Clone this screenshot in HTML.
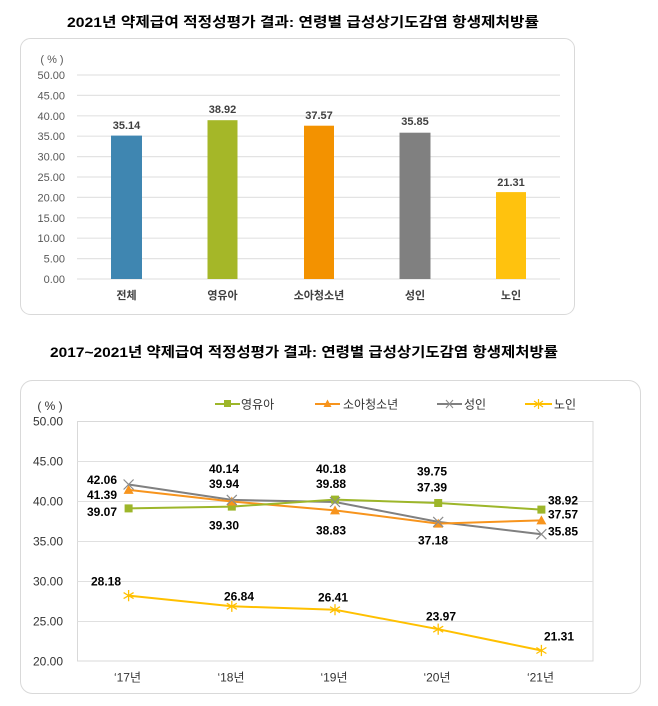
<!DOCTYPE html>
<html>
<head>
<meta charset="utf-8">
<style>
html,body{margin:0;padding:0;background:#fff;}
svg{display:block;}
text{font-family:"Liberation Sans","Noto Sans CJK KR",sans-serif;}
</style>
</head>
<body>
<svg width="658" height="706" viewBox="0 0 658 706" xmlns="http://www.w3.org/2000/svg">
<rect width="658" height="706" fill="#fff"/>

<!-- ===== Chart 1 ===== -->
<text x="303" y="27" text-anchor="middle" font-size="14" font-weight="bold" fill="#000" textLength="472" lengthAdjust="spacingAndGlyphs">2021년 약제급여 적정성평가 결과: 연령별 급성상기도감염 항생제처방률</text>
<rect x="20.5" y="38.5" width="554" height="276" rx="10" ry="10" fill="#fff" stroke="#d9d9d9" stroke-width="1"/>
<text x="52" y="63" text-anchor="middle" font-size="11" fill="#595959">( % )</text>
<g stroke="#e3e3e3" stroke-width="1.2">
<line x1="77" y1="75" x2="560" y2="75"/>
<line x1="77" y1="95.4" x2="560" y2="95.4"/>
<line x1="77" y1="115.8" x2="560" y2="115.8"/>
<line x1="77" y1="136.2" x2="560" y2="136.2"/>
<line x1="77" y1="156.6" x2="560" y2="156.6"/>
<line x1="77" y1="177" x2="560" y2="177"/>
<line x1="77" y1="197.4" x2="560" y2="197.4"/>
<line x1="77" y1="217.8" x2="560" y2="217.8"/>
<line x1="77" y1="238.2" x2="560" y2="238.2"/>
<line x1="77" y1="258.6" x2="560" y2="258.6"/>
<line x1="77" y1="279" x2="560" y2="279"/>
</g>
<g font-size="11" fill="#595959" text-anchor="end">
<text x="65" y="79">50.00</text>
<text x="65" y="99.4">45.00</text>
<text x="65" y="119.8">40.00</text>
<text x="65" y="140.2">35.00</text>
<text x="65" y="160.6">30.00</text>
<text x="65" y="181">25.00</text>
<text x="65" y="201.4">20.00</text>
<text x="65" y="221.8">15.00</text>
<text x="65" y="242.2">10.00</text>
<text x="65" y="262.6">5.00</text>
<text x="65" y="283">0.00</text>
</g>
<rect x="111" y="135.6" width="31" height="143.4" fill="#3F86B1"/>
<rect x="207.5" y="120.2" width="30" height="158.8" fill="#A5B728"/>
<rect x="304" y="125.7" width="30" height="153.3" fill="#F39200"/>
<rect x="399.5" y="132.7" width="31" height="146.3" fill="#808080"/>
<rect x="496" y="192.1" width="30" height="86.9" fill="#FFC20E"/>
<g font-size="11" font-weight="bold" fill="#404040" text-anchor="middle">
<text x="126.5" y="129">35.14</text>
<text x="222.5" y="113">38.92</text>
<text x="319" y="119">37.57</text>
<text x="415" y="125">35.85</text>
<text x="511" y="186">21.31</text>
</g>
<g font-size="11" font-weight="bold" fill="#404040" text-anchor="middle">
<text x="126.5" y="299">전체</text>
<text x="222.5" y="299">영유아</text>
<text x="319" y="299">소아청소년</text>
<text x="415" y="299">성인</text>
<text x="511" y="299">노인</text>
</g>

<!-- ===== Chart 2 ===== -->
<text x="304" y="357" text-anchor="middle" font-size="14" font-weight="bold" fill="#000" textLength="508" lengthAdjust="spacingAndGlyphs">2017~2021년 약제급여 적정성평가 결과: 연령별 급성상기도감염 항생제처방률</text>
<rect x="20.5" y="380.5" width="620" height="313" rx="12" ry="12" fill="#fff" stroke="#d9d9d9" stroke-width="1"/>
<text x="50" y="410" text-anchor="middle" font-size="12" fill="#333">( % )</text>

<!-- legend -->
<g stroke-width="2" fill="none">
<line x1="215" y1="404" x2="240" y2="404" stroke="#9DB62A"/>
<line x1="315" y1="404" x2="340" y2="404" stroke="#F7941D"/>
<line x1="437" y1="404" x2="462" y2="404" stroke="#808080"/>
<line x1="525" y1="404" x2="552" y2="404" stroke="#FFC000"/>
</g>
<rect x="224" y="400" width="7" height="7" fill="#9DB62A"/>
<polygon points="327.5,399.5 331.5,407 323.5,407" fill="#F7941D"/>
<g stroke="#8c8c8c" stroke-width="1"><line x1="446" y1="400" x2="453" y2="408"/><line x1="453" y1="400" x2="446" y2="408"/></g>
<g stroke="#FFC000" stroke-width="1.2"><line x1="538.5" y1="399" x2="538.5" y2="409"/><line x1="534" y1="401" x2="543" y2="407"/><line x1="543" y1="401" x2="534" y2="407"/></g>
<g font-size="12" fill="#333">
<text x="241" y="408.5">영유아</text>
<text x="343" y="408.5">소아청소년</text>
<text x="464" y="408.5">성인</text>
<text x="554" y="408.5">노인</text>
</g>

<!-- plot area -->
<rect x="77.5" y="421.5" width="515.5" height="239.5" fill="#fff" stroke="#d9d9d9" stroke-width="1"/>
<g stroke="#e0e0e0" stroke-width="1">
<line x1="77.5" y1="461.5" x2="593" y2="461.5"/>
<line x1="77.5" y1="501.5" x2="593" y2="501.5"/>
<line x1="77.5" y1="541.5" x2="593" y2="541.5"/>
<line x1="77.5" y1="581.5" x2="593" y2="581.5"/>
<line x1="77.5" y1="621.5" x2="593" y2="621.5"/>
</g>
<g font-size="12" fill="#333" text-anchor="end">
<text x="63" y="425.5">50.00</text>
<text x="63" y="465.5">45.00</text>
<text x="63" y="505.5">40.00</text>
<text x="63" y="545.5">35.00</text>
<text x="63" y="585.5">30.00</text>
<text x="63" y="625.5">25.00</text>
<text x="63" y="665.5">20.00</text>
</g>
<g font-size="12" fill="#333" text-anchor="middle">
<text x="127.5" y="681.5">‘17년</text>
<text x="231" y="681.5">‘18년</text>
<text x="334" y="681.5">‘19년</text>
<text x="437" y="681.5">‘20년</text>
<text x="540.5" y="681.5">‘21년</text>
</g>

<!-- series lines -->
<g fill="none" stroke-width="2" stroke-linejoin="round">
<polyline stroke="#808080" points="128.6,484.5 231.8,499.9 335,502 438.2,521.9 541.4,534.2"/>
<polyline stroke="#F7941D" points="128.6,489.9 231.8,501.5 335,510.4 438.2,523.6 541.4,520.4"/>
<polyline stroke="#9DB62A" points="128.6,508.4 231.8,506.6 335,499.6 438.2,503 541.4,509.6"/>
<polyline stroke="#FFC000" points="128.6,595.6 231.8,606.3 335,609.7 438.2,629.2 541.4,650.5"/>
</g>
<!-- markers: green squares -->
<g fill="#9DB62A">
<rect x="124.6" y="504.4" width="8" height="8"/>
<rect x="227.8" y="502.6" width="8" height="8"/>
<rect x="331" y="495.6" width="8" height="8"/>
<rect x="434.2" y="499" width="8" height="8"/>
<rect x="537.4" y="505.6" width="8" height="8"/>
</g>
<!-- orange triangles -->
<g fill="#F7941D">
<polygon points="128.6,484.9 133.6,493.9 123.6,493.9"/>
<polygon points="231.8,496.5 236.8,505.5 226.8,505.5"/>
<polygon points="335,505.4 340,514.4 330,514.4"/>
<polygon points="438.2,518.6 443.2,527.6 433.2,527.6"/>
<polygon points="541.4,515.4 546.4,524.4 536.4,524.4"/>
</g>
<!-- gray x -->
<g stroke="#8c8c8c" stroke-width="1.2">
<path d="M123.6,479.5 L133.6,489.5 M133.6,479.5 L123.6,489.5"/>
<path d="M226.8,494.9 L236.8,504.9 M236.8,494.9 L226.8,504.9"/>
<path d="M330,497 L340,507 M340,497 L330,507"/>
<path d="M433.2,516.9 L443.2,526.9 M443.2,516.9 L433.2,526.9"/>
<path d="M536.4,529.2 L546.4,539.2 M546.4,529.2 L536.4,539.2"/>
</g>
<!-- yellow asterisks -->
<g stroke="#FFC000" stroke-width="1.3">
<path d="M128.6,590 V601.2 M123.6,592.6 L133.6,598.6 M133.6,592.6 L123.6,598.6"/>
<path d="M231.8,600.7 V611.9 M226.8,603.3 L236.8,609.3 M236.8,603.3 L226.8,609.3"/>
<path d="M335,604.1 V615.3 M330,606.7 L340,612.7 M340,606.7 L330,612.7"/>
<path d="M438.2,623.6 V634.8 M433.2,626.2 L443.2,632.2 M443.2,626.2 L433.2,632.2"/>
<path d="M541.4,644.9 V656.1 M536.4,647.5 L546.4,653.5 M546.4,647.5 L536.4,653.5"/>
</g>

<!-- data labels -->
<g font-size="12" font-weight="bold" fill="#000" text-anchor="middle">
<text x="102" y="484">42.06</text>
<text x="102" y="499">41.39</text>
<text x="102" y="516">39.07</text>
<text x="106" y="585.5">28.18</text>

<text x="224" y="473">40.14</text>
<text x="224" y="488">39.94</text>
<text x="224" y="529.5">39.30</text>
<text x="239" y="600.5">26.84</text>

<text x="331" y="473">40.18</text>
<text x="331" y="488">39.88</text>
<text x="331" y="534.5">38.83</text>
<text x="333" y="601.5">26.41</text>

<text x="432" y="475.5">39.75</text>
<text x="432" y="491.5">37.39</text>
<text x="433" y="544.5">37.18</text>
<text x="441" y="620.5">23.97</text>

<text x="563" y="504.5">38.92</text>
<text x="563" y="518.5">37.57</text>
<text x="563" y="535.5">35.85</text>
<text x="559" y="640.5">21.31</text>
</g>
</svg>
</body>
</html>
